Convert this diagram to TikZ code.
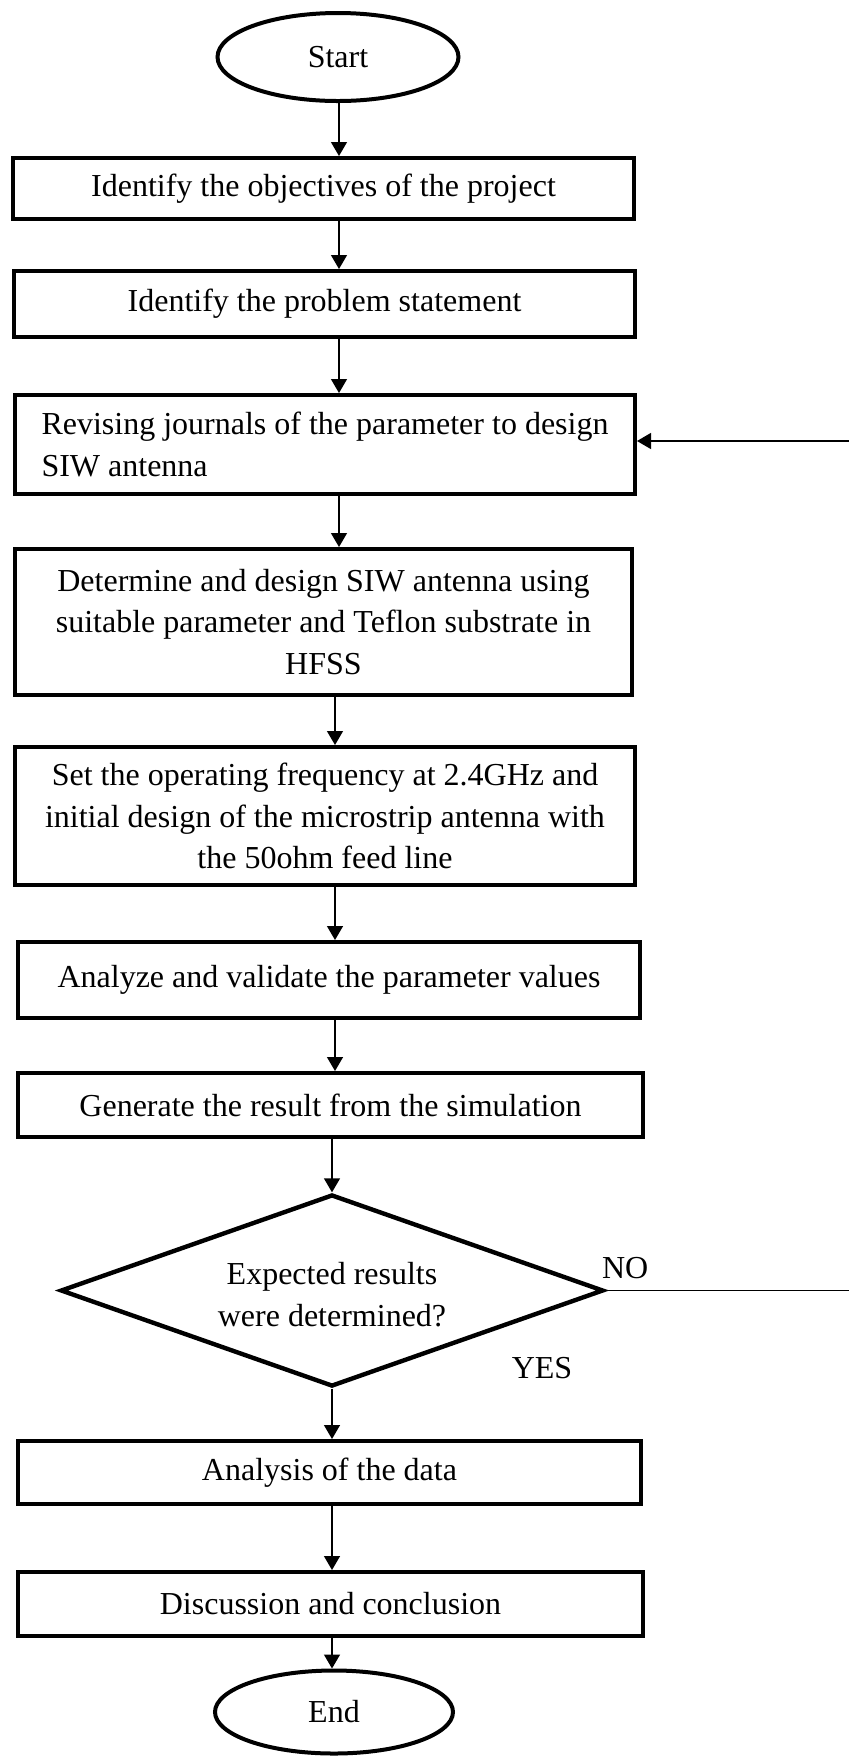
\documentclass[tikz,border=0pt]{standalone}
\usepackage{fontspec}
\setmainfont{Liberation Serif}
\usepackage{tikz}
\usetikzlibrary{shapes.geometric,arrows.meta}

\begin{document}
\begin{tikzpicture}[x=0.5pt,y=-0.5pt,
  txt/.style={font=\fontsize{16}{20.75}\selectfont},
  stage/.style={txt, draw, line width=2pt, rectangle, align=center, inner sep=0pt},
  terminal/.style={txt, draw, line width=2pt, ellipse, inner sep=0pt},
  decision/.style={txt, draw, line width=2.2pt, diamond, shape aspect=2.8, align=center, inner sep=0pt},
  arrow/.style={-{Triangle[length=7pt,width=8pt]}, line width=0.7pt}]
\useasboundingbox (0,0) rectangle (848,1758);
\node[terminal, minimum width=120.5pt, minimum height=44pt] (start) at (338,57) {Start};
\node[stage, minimum width=310.5pt, minimum height=30.5pt] (objectives) at (323.5,188.5) {Identify the objectives of the project};
\node[stage, minimum width=310.5pt, minimum height=33pt] (problem) at (324.5,304) {Identify the problem statement};
\node[stage, align=left, minimum width=310pt, minimum height=49.5pt] (journals) at (325,444.5) {Revising journals of the parameter to design\\SIW antenna};
\node[stage, minimum width=308.5pt, minimum height=73pt] (design) at (323.5,622) {Determine and design SIW antenna using\\suitable parameter and Teflon substrate in\\HFSS};
\node[stage, minimum width=310pt, minimum height=69pt] (frequency) at (325,816) {Set the operating frequency at 2.4GHz and\\initial design of the microstrip antenna with\\the 50ohm feed line};
\node[stage, minimum width=311pt, minimum height=38pt] (validate) at (329,980) {Analyze and validate the parameter values};
\node[stage, minimum width=312.5pt, minimum height=32pt] (simulate) at (330.5,1105) {Generate the result from the simulation};
\node[decision, text height=36pt, minimum width=271.5pt, minimum height=96pt] (check) at (332,1290.5) {Expected results\\were determined?};
\node[stage, minimum width=311.5pt, minimum height=31.5pt] (analysis) at (329.5,1472.5) {Analysis of the data};
\node[stage, minimum width=312.5pt, minimum height=32pt] (discussion) at (330.5,1604) {Discussion and conclusion};
\node[terminal, minimum width=119pt, minimum height=41.5pt] (end) at (334,1712) {End};
\node[txt, anchor=base west, inner sep=0pt] (no) at ([xshift=-2pt,yshift=6pt]check.east) {NO};
\node[txt, anchor=base, inner sep=0pt] (yes) at (542,1378) {YES};
\coordinate (colA) at (339,0); \coordinate (colB) at (335,0); \coordinate (colC) at (332,0);
\draw[arrow] (start.south -| colA) -- (objectives.north -| colA);
\draw[arrow] (objectives.south -| colA) -- (problem.north -| colA);
\draw[arrow] (problem.south -| colA) -- (journals.north -| colA);
\draw[arrow] (journals.south -| colA) -- (design.north -| colA);
\draw[arrow] (design.south -| colB) -- (frequency.north -| colB);
\draw[arrow] (frequency.south -| colB) -- (validate.north -| colB);
\draw[arrow] (validate.south -| colB) -- (simulate.north -| colB);
\draw[arrow] (simulate.south -| colC) -- (check.north);
\draw[arrow] (check.south) -- (analysis.north -| check.south);
\draw[arrow] (analysis.south -| colC) -- (discussion.north -| colC);
\draw[arrow] (discussion.south -| colC) -- (end.north -| colC);
\draw[arrow] (check.east) -- ++(246,0) |- ([yshift=1.75pt]journals.east);
\end{tikzpicture}
\end{document}
